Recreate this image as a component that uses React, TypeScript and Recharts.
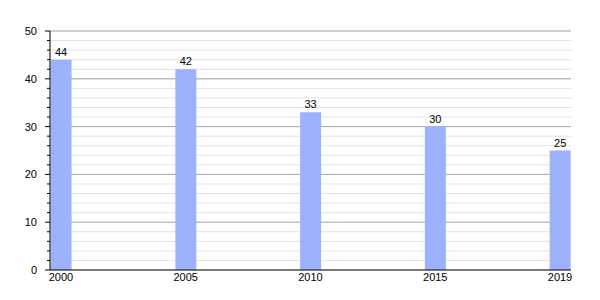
import { Bar, BarChart, CartesianGrid, LabelList, XAxis, YAxis } from "recharts";

const years = ["2000", "2005", "2010", "2015", "2019"];
const values = [44, 42, 33, 30, 25];
const yTicks = [0, 2, 4, 6, 8, 10, 12, 14, 16, 18, 20, 22, 24, 26, 28, 30, 32, 34, 36, 38, 40, 42, 44, 46, 48, 50];
const majorTicks = [10, 20, 30, 40, 50];

const data = years.map((year, i) => ({ idx: i, year, value: values[i] }));

const font = "'Liberation Sans', Arial, sans-serif";

function YTick(props: any) {
  const { x, y, payload } = props;
  const v = payload.value as number;
  const major = v % 10 === 0;
  const axisX = x + 13;
  return (
    <g>
      <line x1={axisX - (major ? 5 : 3)} x2={axisX} y1={y} y2={y} stroke="#000" strokeWidth={1} />
      {major ? (
        <text x={x} y={y} dy="0.355em" textAnchor="end" fontSize={11} fontFamily={font} fill="#000">
          {v}
        </text>
      ) : null}
    </g>
  );
}

export default function App() {
  return (
    <div style={{ position: "absolute", left: 0, top: 0, width: 600, height: 300, background: "#fff" }}>
      <BarChart width={600} height={300} data={data} margin={{ top: 31, right: 29, bottom: 0, left: 0 }}>
        <CartesianGrid vertical={false} stroke="#e2e2e2" />
        <CartesianGrid vertical={false} horizontalValues={majorTicks} stroke="#ababab" />
        <XAxis
          type="number"
          dataKey="idx"
          domain={[-0.088, 4.088]}
          allowDataOverflow
          ticks={[0, 1, 2, 3, 4]}
          tickFormatter={(i: number) => years[i]}
          tickLine={false}
          tickSize={3}
          tickMargin={0}
          height={30}
          axisLine={{ stroke: "#000" }}
          tick={{ fill: "#000", fontSize: 11, fontFamily: font }}
        />
        <YAxis
          type="number"
          domain={[0, 50]}
          ticks={yTicks}
          interval={0}
          width={50}
          tickLine={false}
          tickSize={5}
          tickMargin={8}
          axisLine={{ stroke: "#000" }}
          tick={<YTick />}
        />
        <Bar dataKey="value" fill="#9db2fd" barSize={21} isAnimationActive={false}>
          <LabelList dataKey="value" position="top" offset={4} fill="#000" fontSize={11} fontFamily={font} />
        </Bar>
      </BarChart>
    </div>
  );
}
